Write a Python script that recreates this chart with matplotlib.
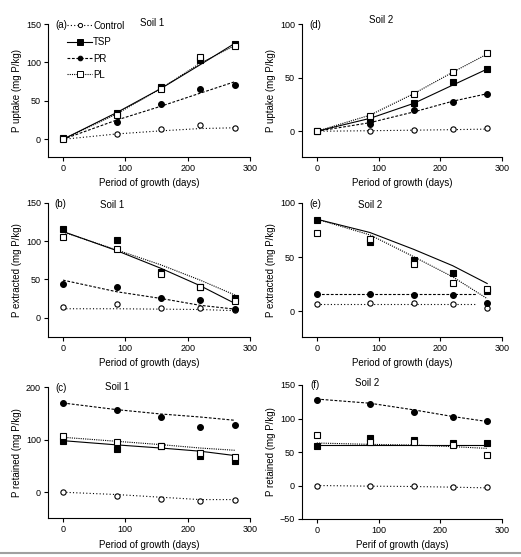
import numpy as np
import matplotlib.pyplot as plt
from matplotlib.lines import Line2D

plt.rcParams['font.family'] = ['Liberation Sans', 'DejaVu Sans']
plt.rcParams['font.size'] = 6.5

# sampling days
days = [0, 86, 157, 220, 276]
days_e_flat = [0, 86, 157, 220, 260]

treatments = ['Control', 'TSP', 'PR', 'PL']

# measured points, rows: Control, TSP, PR, PL
a_pts = [[1, 7, 14, 18.6, 14.7],
         [1.7, 33.8, 67.6, 103, 123.5],
         [1, 23, 46, 65.5, 71],
         [1, 31.6, 65, 106.6, 121.4]]
d_pts = [[0, 0.3, 1.2, 2.2, 2.8],
         [0, 11.5, 26.8, 45.5, 58.3],
         [0, 6.5, 20.2, 27.7, 35.2],
         [0, 14.3, 34.3, 55.5, 72.6]]
b_pts = [[13.2, 17.5, 13, 13, 10],
         [115.8, 100.9, 60, 40.4, 25],
         [44, 40, 26, 23, 11],
         [105, 90, 57, 39.5, 21.5]]
e_pts = [[6.2, 7.8, 7.1, 6.5, 2.5],
         [84.2, 63.7, 47.2, 35.4, 18.3],
         [16.1, 16.1, 14.6, 14.6, 7.1],
         [72, 66.5, 44, 26.4, 20.8]]
c_pts = [[0, -6.3, -12.7, -17, -14],
         [98, 82, 87, 69.6, 60],
         [169, 155.7, 142.4, 124, 128.5],
         [107.6, 95, 88.6, 74.7, 66.5]]
f_pts = [[0, -1, -1, -2, -2.5],
         [59, 70.3, 68.3, 63.4, 63.4],
         [127.7, 121.8, 109.4, 101.5, 97],
         [75.2, 65.3, 65.3, 60.4, 46]]

# model curves at the same days
a_fit = [[0, 7, 11, 14, 15],
         [0, 34.7, 66, 97, 125],
         [0, 25, 43, 60, 75],
         [0, 33, 66, 99, 122]]
d_fit = [[0, 0.5, 1, 1.5, 2],
         [0, 12, 26, 43, 58],
         [0, 8, 18, 28, 35],
         [0, 15, 35, 55, 72]]
b_fit = [[11.5, 11.5, 11, 10.5, 9],
         [112.7, 87.7, 64.5, 41.7, 18.4],
         [49, 33.8, 25, 16, 11],
         [112, 88.6, 69, 49, 29.4]]
e_fit = [[6.2, 6.2, 6.2, 6.2, 6.2],
         [85, 72.7, 57.1, 42, 25.5],
         [15.8, 15.8, 15.8, 15.8, 15.8],
         [85, 70.5, 50.3, 31.7, 11.5]]
c_fit = [[0, -4.4, -9.5, -14, -14],
         [98, 90, 84, 78, 69.6],
         [169.6, 157, 148.7, 143, 136.7],
         [104.4, 96.8, 90.5, 84, 79.7]]
f_fit = [[0, -1, -1.5, -2.5, -3.5],
         [60, 60, 60, 60, 60],
         [129, 122.8, 112.9, 103, 95.5],
         [63.4, 61.4, 60.4, 58, 55.4]]

markers = ['o', 's', 'o', 's']
faces = ['white', 'black', 'black', 'white']
msizes = [3.8, 5.0, 4.2, 5.0]
styles = [(0, (1, 2)), '-', (0, (2.5, 1.5)), (0, (1, 1))]

W, H = 521, 557
fig = plt.figure(figsize=(W / 100, H / 100), dpi=100)

def px_axes(x0, x1, y0, y1):
    return fig.add_axes([x0 / W, 1 - y1 / H, (x1 - x0) / W, (y1 - y0) / H])

panels = [
    # pts, fit, box, ylim, yticks, ylabel, tag, tag pos, soil, soil pos, xlabel
    (a_pts, a_fit, (48, 250, 24, 157), (-23, 150), [0, 50, 100, 150], 'P uptake (mg P/kg)',
     '(a)', (0.035, 0.99), 'Soil 1', (0.515, 1.01), 'Period of growth (days)'),
    (d_pts, d_fit, (302, 502, 24, 157), (-24, 100), [0, 50, 100], 'P uptake (mg P/kg)',
     '(d)', (0.035, 0.99), 'Soil 2', (0.395, 1.03), 'Period of growth (days)'),
    (b_pts, b_fit, (48, 250, 203, 337), (-25.5, 150), [0, 50, 100, 150], 'P extracted (mg P/kg)',
     '(b)', (0.03, 0.99), 'Soil 1', (0.317, 0.985), 'Period of growth (days)'),
    (e_pts, e_fit, (302, 502, 203, 337), (-24, 100), [0, 50, 100], 'P extracted (mg P/kg)',
     '(e)', (0.035, 0.99), 'Soil 2', (0.34, 0.985), 'Period of growth (days)'),
    (c_pts, c_fit, (48, 250, 387, 518), (-49, 200), [0, 100, 200], 'P retained (mg P/kg)',
     '(c)', (0.035, 0.995), 'Soil 1', (0.34, 1.0), 'Period of growth (days)'),
    (f_pts, f_fit, (302, 502, 385, 519), (-50, 150), [-50, 0, 50, 100, 150], 'P retained (mg P/kg)',
     '(f)', (0.04, 1.0), 'Soil 2', (0.325, 1.015), 'Perif of growth (days)'),
]

for k, (pts, fit, box, ylim, yticks, ylab, tag, tpos, soil, spos, xlab) in enumerate(panels):
    ax = px_axes(*box)
    for i in range(4):
        xs = days_e_flat if (tag == '(e)' and i in (0, 2)) else days
        ax.plot(xs, fit[i], color='black', lw=0.8, linestyle=styles[i])
        ax.plot(days, pts[i], linestyle='none', marker=markers[i], ms=msizes[i],
                mfc=faces[i], mec='black', mew=0.8)
    ax.set_xlim(-24, 300)
    ax.set_ylim(*ylim)
    ax.set_xticks([0, 100, 200, 300])
    ax.set_yticks(yticks)
    ax.spines['top'].set_visible(False)
    ax.spines['right'].set_visible(False)
    for s in ('left', 'bottom'):
        ax.spines[s].set_linewidth(0.8)
    ax.tick_params(direction='out', length=3, width=0.8, labelsize=6.5, pad=2)
    ax.set_xlabel(xlab, fontsize=7, labelpad=4)
    ax.set_ylabel(ylab, fontsize=7, labelpad=3)
    ax.text(tpos[0], tpos[1], tag, transform=ax.transAxes, ha='left', va='center', fontsize=7)
    ax.text(spos[0], spos[1], soil, transform=ax.transAxes, ha='center', va='center', fontsize=7)
    if tag == '(a)':
        handles = [Line2D([], [], color='black', lw=0.8, linestyle=styles[i], marker=markers[i],
                          ms=msizes[i] * 0.8, mfc=faces[i], mec='black', mew=0.7)
                   for i in range(4)]
        ax.legend(handles, treatments, loc='upper left', bbox_to_anchor=(0.07, 1.06),
                  frameon=False, fontsize=7, handlelength=2.6, handletextpad=0.1,
                  labelspacing=0.65, borderpad=0)

# thin grey rule along the bottom edge
fig.add_artist(Line2D([0, 1], [4 / H, 4 / H], color='#a0a0a0', lw=1.5, transform=fig.transFigure))

fig.savefig('out.png', dpi=100)
